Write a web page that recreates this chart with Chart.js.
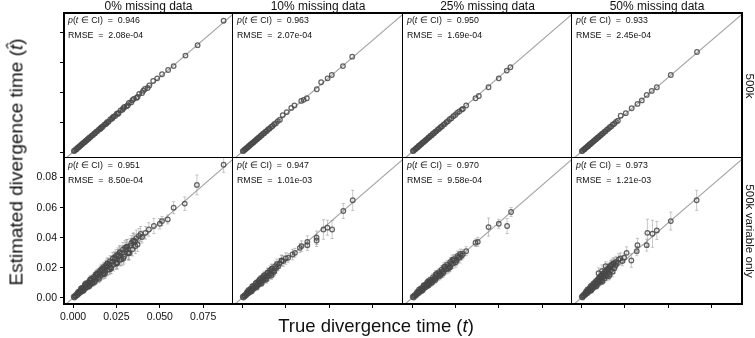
<!DOCTYPE html>
<html>
<head>
<meta charset="utf-8">
<script src="https://cdn.jsdelivr.net/npm/chart.js@4.4.1/dist/chart.umd.min.js"></script>
<style>
    body { margin: 0; background: #fff; width: 755px; height: 338px; position: relative; overflow: hidden;
           font-family: "Liberation Sans", Arial, sans-serif; color: #111; }
    canvas { position: absolute; }
    .lbl { position: absolute; white-space: nowrap; line-height: 1; transform: translate(-50%, -50%); }
</style>
</head>
<body>
<script>
// column / row headings and tick labels
var colTitles = ['0% missing data', '10% missing data', '25% missing data', '50% missing data'];
var rowTitles = ['500k', '500k variable only'];
var xTicks = [0, 0.025, 0.05, 0.075];
var yTicks = [0, 0.02, 0.04, 0.06, 0.08];

// p(t in CI) and RMSE printed in each panel
var coverTop = ['0.946', '0.963', '0.950', '0.933'];
var rmseTop = ['2.08e-04', '2.07e-04', '1.69e-04', '2.45e-04'];
var coverBottom = ['0.951', '0.947', '0.970', '0.973'];
var rmseBottom = ['8.50e-04', '1.01e-03', '9.58e-04', '1.21e-03'];

// 500k, 0% missing
var true500k_0 = [0.0005,0.0011,0.0017,0.0022,0.0028,0.0033,0.0039,0.0044,0.0050,0.0056,
    0.0061,0.0067,0.0072,0.0078,0.0084,0.0090,0.0095,0.0101,0.0108,0.0114,
    0.0121,0.0127,0.0134,0.0141,0.0148,0.0155,0.0163,0.0171,0.0179,0.0187,
    0.0196,0.0205,0.0214,0.0224,0.0233,0.0243,0.0252,0.0263,0.0274,0.0285,
    0.0296,0.0309,0.0322,0.0335,0.0350,0.0365,0.0381,0.0398,0.0414,0.0430,
    0.0462,0.0485,0.0513,0.0548,0.0580,0.0648,0.0718,0.0868,
    0.0160,0.0192,0.0228,0.0258,0.0290,0.0316,0.0342,0.0372,0.0405,0.0440];
var est500k_0 = [0.0007,0.0010,0.0019,0.0021,0.0030,0.0032,0.0041,0.0043,0.0052,0.0055,
    0.0063,0.0066,0.0074,0.0077,0.0086,0.0089,0.0097,0.0100,0.0110,0.0113,
    0.0123,0.0126,0.0136,0.0140,0.0150,0.0154,0.0166,0.0169,0.0182,0.0186,
    0.0199,0.0203,0.0218,0.0222,0.0237,0.0241,0.0256,0.0261,0.0279,0.0283,
    0.0301,0.0306,0.0328,0.0332,0.0356,0.0362,0.0389,0.0395,0.0422,0.0428,
    0.0475,0.0493,0.0520,0.0549,0.0575,0.0645,0.0715,0.0878,
    0.0158,0.0190,0.0230,0.0255,0.0293,0.0313,0.0346,0.0368,0.0410,0.0445];

// 500k, 10% missing
var true500k_10 = [0.0004,0.0010,0.0015,0.0021,0.0026,0.0032,0.0037,0.0043,0.0048,0.0054,
    0.0059,0.0065,0.0071,0.0076,0.0082,0.0088,0.0094,0.0100,0.0107,0.0113,
    0.0120,0.0127,0.0134,0.0142,0.0150,0.0158,0.0166,0.0175,0.0184,0.0194,
    0.0205,0.0217,
    0.0233,0.0256,0.0282,0.0300,0.0339,0.0353,0.0371,0.0428,0.0453,0.0490,0.0514,0.0578,0.0631];
var est500k_10 = [0.0006,0.0009,0.0017,0.0020,0.0028,0.0031,0.0039,0.0042,0.0050,0.0053,
    0.0061,0.0064,0.0073,0.0075,0.0084,0.0087,0.0096,0.0099,0.0109,0.0112,
    0.0122,0.0126,0.0136,0.0141,0.0152,0.0157,0.0168,0.0174,0.0186,0.0193,
    0.0207,0.0216,
    0.0247,0.0267,0.0295,0.0311,0.0342,0.0349,0.0360,0.0420,0.0467,0.0493,0.0515,0.0575,0.0638];

// 500k, 25% missing
var true500k_25 = [0.0005,0.0010,0.0016,0.0021,0.0027,0.0032,0.0038,0.0043,0.0049,0.0054,
    0.0060,0.0066,0.0071,0.0077,0.0083,0.0089,0.0095,0.0101,0.0107,0.0114,
    0.0120,0.0127,0.0134,0.0141,0.0149,0.0156,0.0164,0.0172,0.0180,0.0189,
    0.0198,0.0207,0.0217,0.0227,0.0238,0.0249,0.0260,0.0272,
    0.0287,0.0293,0.0312,0.0366,0.0385,0.0441,0.0500,0.0546,0.0567];
var est500k_25 = [0.0007,0.0009,0.0018,0.0020,0.0029,0.0031,0.0040,0.0042,0.0051,0.0053,
    0.0062,0.0065,0.0073,0.0076,0.0085,0.0088,0.0097,0.0100,0.0109,0.0113,
    0.0122,0.0126,0.0136,0.0140,0.0151,0.0155,0.0166,0.0171,0.0182,0.0188,
    0.0200,0.0206,0.0219,0.0226,0.0240,0.0248,0.0262,0.0271,
    0.0284,0.0289,0.0311,0.0360,0.0375,0.0433,0.0493,0.0545,0.0567];

// 500k, 50% missing
var true500k_50 = [0.0004,0.0009,0.0015,0.0020,0.0026,0.0031,0.0037,0.0042,0.0048,0.0053,
    0.0059,0.0064,0.0070,0.0076,0.0082,0.0088,0.0094,0.0100,0.0106,0.0113,
    0.0119,0.0126,0.0133,0.0140,0.0148,0.0156,0.0164,0.0172,0.0181,0.0190,
    0.0200,0.0211,
    0.0227,0.0256,0.0290,0.0323,0.0348,0.0376,0.0405,0.0434,0.0514,0.0664];
var est500k_50 = [0.0006,0.0008,0.0017,0.0019,0.0028,0.0030,0.0039,0.0041,0.0050,0.0052,
    0.0061,0.0063,0.0072,0.0075,0.0084,0.0087,0.0096,0.0099,0.0108,0.0112,
    0.0121,0.0125,0.0135,0.0139,0.0150,0.0155,0.0166,0.0171,0.0183,0.0189,
    0.0202,0.0210,
    0.0243,0.0260,0.0293,0.0322,0.0345,0.0382,0.0409,0.0433,0.0515,0.0669];

// 500k variable only, 0% missing (ci = half width of the interval)
var trueVar_0 = [0.0004,0.0008,0.0012,0.0016,0.0020,0.0025,0.0029,0.0033,0.0038,0.0042,
    0.0047,0.0051,0.0056,0.0061,0.0065,0.0070,0.0075,0.0080,0.0085,0.0090,
    0.0095,0.0100,0.0106,0.0111,0.0117,0.0122,0.0128,0.0134,0.0140,0.0146,
    0.0152,0.0159,0.0165,0.0172,0.0179,0.0186,0.0193,0.0201,0.0209,0.0217,
    0.0225,0.0234,0.0243,0.0252,0.0262,0.0272,0.0283,0.0294,0.0305,0.0317,
    0.0330,0.0343,0.0357,0.0372,
    0.0398,0.0418,0.0437,0.0466,0.0500,0.0513,0.0546,0.0580,0.0644,0.0714,0.0868,
    0.0030,0.0052,0.0068,0.0088,0.0104,0.0119,0.0131,0.0143,0.0156,0.0168,
    0.0176,0.0189,0.0197,0.0213,0.0229,0.0247,0.0258,0.0268,0.0288,0.0300,
    0.0312,0.0336,0.0350,0.0365,0.0380,
    0.0060,0.0094,0.0125,0.0150,0.0183,0.0220,0.0255,0.0290,0.0325,
    0.0045,0.0072,0.0098,0.0113,0.0137,0.0162,0.0175,0.0199,0.0210,0.0238,
    0.0248,0.0270,0.0280,0.0310,0.0320,0.0345,0.0360,0.0390];
var estVar_0 = [0.0009,0.0003,0.0016,0.0011,0.0026,0.0020,0.0035,0.0028,0.0045,0.0037,
    0.0054,0.0045,0.0064,0.0055,0.0073,0.0063,0.0083,0.0072,0.0094,0.0082,
    0.0104,0.0091,0.0116,0.0102,0.0128,0.0113,0.0139,0.0125,0.0152,0.0136,
    0.0165,0.0148,0.0178,0.0160,0.0193,0.0172,0.0208,0.0188,0.0224,0.0203,
    0.0240,0.0220,0.0258,0.0236,0.0278,0.0254,0.0300,0.0275,0.0323,0.0297,
    0.0348,0.0323,0.0375,0.0355,
    0.0405,0.0433,0.0455,0.0478,0.0493,0.0511,0.0522,0.0600,0.0627,0.0751,0.0885,
    0.0041,0.0066,0.0088,0.0105,0.0126,0.0140,0.0156,0.0165,0.0182,0.0193,
    0.0204,0.0216,0.0228,0.0243,0.0262,0.0280,0.0290,0.0300,0.0322,0.0334,
    0.0341,0.0365,0.0382,0.0398,0.0412,
    0.0048,0.0078,0.0106,0.0128,0.0160,0.0196,0.0230,0.0262,0.0298,
    0.0062,0.0095,0.0122,0.0100,0.0162,0.0188,0.0160,0.0230,0.0190,0.0268,
    0.0228,0.0305,0.0258,0.0340,0.0300,0.0378,0.0345,0.0425];
var ciVar_0 = [0.0008,0.0008,0.0009,0.0010,0.0010,0.0011,0.0012,0.0012,0.0013,0.0014,
    0.0015,0.0015,0.0016,0.0017,0.0018,0.0018,0.0020,0.0019,0.0021,0.0022,
    0.0022,0.0023,0.0024,0.0026,0.0025,0.0027,0.0028,0.0030,0.0029,0.0031,
    0.0032,0.0035,0.0033,0.0036,0.0034,0.0038,0.0036,0.0040,0.0037,0.0042,
    0.0039,0.0041,0.0043,0.0040,0.0045,0.0042,0.0046,0.0043,0.0047,0.0045,
    0.0048,0.0044,0.0050,0.0046,
    0.0040,0.0042,0.0045,0.0050,0.0035,0.0030,0.0030,0.0040,0.0045,0.0066,0.0050,
    0.0012,0.0015,0.0018,0.0020,0.0022,0.0025,0.0026,0.0028,0.0030,0.0032,
    0.0033,0.0035,0.0036,0.0038,0.0040,0.0042,0.0043,0.0044,0.0046,0.0047,
    0.0048,0.0050,0.0050,0.0052,0.0050,
    0.0015,0.0019,0.0022,0.0026,0.0030,0.0034,0.0038,0.0042,0.0045,
    0.0016,0.0020,0.0024,0.0022,0.0028,0.0032,0.0030,0.0036,0.0034,0.0040,
    0.0038,0.0044,0.0042,0.0048,0.0046,0.0052,0.0050,0.0050];

// 500k variable only, 10% missing
var trueVar_10 = [0.0004,0.0008,0.0013,0.0017,0.0022,0.0026,0.0031,0.0036,0.0040,0.0045,
    0.0050,0.0055,0.0060,0.0065,0.0070,0.0075,0.0080,0.0086,0.0091,0.0097,
    0.0103,0.0109,0.0115,0.0121,0.0128,0.0135,0.0142,0.0150,0.0158,0.0166,
    0.0175,0.0185,0.0196,
    0.0207,0.0236,0.0264,0.0289,0.0303,0.0331,0.0341,0.0374,0.0374,0.0427,0.0427,0.0466,0.0489,0.0516,0.0580,0.0634,
    0.0028,0.0047,0.0063,0.0078,0.0093,0.0106,0.0118,0.0131,0.0146,0.0161,0.0171,0.0190,0.0215,0.0225,
    0.0055,0.0084,0.0112,0.0139,0.0168,
    0.0036,0.0058,0.0081,0.0101,0.0124,0.0148,0.0170,0.0182,0.0200,0.0228,0.0250];
var estVar_10 = [0.0008,0.0003,0.0017,0.0012,0.0026,0.0021,0.0035,0.0031,0.0044,0.0040,
    0.0054,0.0050,0.0064,0.0059,0.0074,0.0069,0.0084,0.0081,0.0095,0.0092,
    0.0107,0.0104,0.0119,0.0116,0.0132,0.0130,0.0146,0.0145,0.0162,0.0161,
    0.0179,0.0181,0.0200,
    0.0211,0.0245,0.0267,0.0289,0.0300,0.0333,0.0345,0.0373,0.0351,0.0400,0.0382,0.0455,0.0467,0.0455,0.0578,0.0649,
    0.0038,0.0060,0.0079,0.0096,0.0112,0.0127,0.0139,0.0153,0.0168,0.0184,0.0195,0.0212,0.0230,0.0247,
    0.0044,0.0071,0.0097,0.0122,0.0150,
    0.0052,0.0076,0.0100,0.0124,0.0146,0.0170,0.0192,0.0172,0.0225,0.0250,0.0262];
var ciVar_10 = [0.0008,0.0009,0.0008,0.0010,0.0011,0.0010,0.0012,0.0013,0.0012,0.0015,
    0.0014,0.0016,0.0017,0.0015,0.0019,0.0018,0.0021,0.0019,0.0023,0.0021,
    0.0025,0.0022,0.0027,0.0024,0.0029,0.0026,0.0031,0.0028,0.0033,0.0029,
    0.0035,0.0031,0.0036,
    0.0030,0.0035,0.0030,0.0035,0.0030,0.0030,0.0035,0.0040,0.0035,0.0045,0.0040,0.0065,0.0050,0.0060,0.0050,0.0067,
    0.0012,0.0014,0.0016,0.0018,0.0020,0.0022,0.0024,0.0025,0.0027,0.0029,0.0030,0.0032,0.0034,0.0035,
    0.0015,0.0018,0.0021,0.0024,0.0027,
    0.0014,0.0017,0.0020,0.0023,0.0026,0.0029,0.0032,0.0030,0.0034,0.0036,0.0038];

// 500k variable only, 25% missing
var trueVar_25 = [0.0004,0.0009,0.0013,0.0018,0.0023,0.0027,0.0032,0.0037,0.0042,0.0047,
    0.0052,0.0057,0.0062,0.0067,0.0072,0.0078,0.0083,0.0089,0.0094,0.0100,
    0.0106,0.0112,0.0118,0.0124,0.0131,0.0137,0.0144,0.0151,0.0158,0.0166,
    0.0173,0.0181,0.0190,0.0198,0.0207,0.0216,0.0226,0.0236,0.0246,0.0257,
    0.0268,
    0.0287,0.0293,0.0312,0.0366,0.0379,0.0441,0.0500,0.0548,0.0571,
    0.0030,0.0050,0.0070,0.0086,0.0103,0.0121,0.0140,0.0155,0.0170,0.0185,0.0203,0.0221,0.0241,0.0262,0.0278,
    0.0060,0.0096,0.0134,0.0178,0.0220,
    0.0040,0.0066,0.0092,0.0115,0.0138,0.0162,0.0188,0.0210,0.0232,0.0252,0.0275];
var estVar_25 = [0.0008,0.0003,0.0017,0.0013,0.0027,0.0022,0.0036,0.0032,0.0046,0.0041,
    0.0056,0.0051,0.0066,0.0061,0.0076,0.0072,0.0087,0.0082,0.0098,0.0093,
    0.0110,0.0105,0.0122,0.0117,0.0135,0.0130,0.0148,0.0143,0.0162,0.0158,
    0.0177,0.0173,0.0194,0.0190,0.0211,0.0208,0.0230,0.0228,0.0250,0.0249,
    0.0272,
    0.0283,0.0293,0.0311,0.0367,0.0373,0.0471,0.0493,0.0478,0.0571,
    0.0040,0.0063,0.0085,0.0101,0.0120,0.0139,0.0158,0.0171,0.0188,0.0204,0.0221,0.0240,0.0258,0.0280,0.0292,
    0.0049,0.0084,0.0120,0.0163,0.0204,
    0.0055,0.0082,0.0110,0.0102,0.0158,0.0148,0.0208,0.0196,0.0252,0.0238,0.0268];
var ciVar_25 = [0.0008,0.0008,0.0009,0.0010,0.0009,0.0011,0.0012,0.0011,0.0013,0.0014,
    0.0013,0.0015,0.0016,0.0015,0.0017,0.0018,0.0017,0.0019,0.0020,0.0019,
    0.0021,0.0022,0.0021,0.0023,0.0024,0.0023,0.0025,0.0026,0.0025,0.0027,
    0.0028,0.0027,0.0029,0.0030,0.0028,0.0031,0.0030,0.0032,0.0031,0.0033,
    0.0032,
    0.0030,0.0030,0.0030,0.0025,0.0030,0.0060,0.0030,0.0050,0.0030,
    0.0012,0.0014,0.0016,0.0018,0.0020,0.0022,0.0024,0.0025,0.0027,0.0028,0.0029,0.0030,0.0031,0.0032,0.0033,
    0.0015,0.0019,0.0023,0.0027,0.0030,
    0.0014,0.0017,0.0020,0.0022,0.0025,0.0027,0.0030,0.0031,0.0033,0.0034,0.0036];

// 500k variable only, 50% missing
var trueVar_50 = [0.0004,0.0008,0.0012,0.0017,0.0021,0.0026,0.0030,0.0035,0.0039,0.0044,
    0.0049,0.0054,0.0059,0.0064,0.0069,0.0074,0.0079,0.0085,0.0090,0.0096,
    0.0102,0.0108,0.0114,0.0120,0.0127,0.0134,0.0141,0.0148,0.0156,0.0164,
    0.0172,0.0181,0.0190,
    0.0141,0.0198,0.0237,0.0246,0.0261,0.0288,0.0319,0.0323,0.0376,0.0380,0.0409,0.0434,0.0514,0.0662,
    0.0028,0.0046,0.0062,0.0077,0.0093,0.0105,0.0117,0.0129,0.0137,0.0152,0.0160,0.0168,0.0176,0.0185,0.0200,0.0215,0.0225,
    0.0058,0.0088,0.0122,0.0160,
    0.0036,0.0055,0.0070,0.0085,0.0100,0.0112,0.0125,0.0145,0.0158,0.0172,0.0188,0.0205,0.0120,0.0100];
var estVar_50 = [0.0009,0.0004,0.0018,0.0014,0.0028,0.0023,0.0038,0.0032,0.0047,0.0041,
    0.0057,0.0051,0.0068,0.0061,0.0079,0.0071,0.0090,0.0082,0.0101,0.0093,
    0.0113,0.0105,0.0126,0.0117,0.0139,0.0130,0.0153,0.0144,0.0168,0.0158,
    0.0184,0.0175,0.0198,
    0.0211,0.0218,0.0245,0.0267,0.0300,0.0249,0.0311,0.0351,0.0351,0.0433,0.0427,0.0449,0.0511,0.0649,
    0.0042,0.0063,0.0082,0.0100,0.0118,0.0133,0.0148,0.0161,0.0175,0.0190,0.0200,0.0212,0.0222,0.0228,0.0240,0.0255,0.0262,
    0.0049,0.0078,0.0110,0.0146,
    0.0055,0.0078,0.0095,0.0112,0.0130,0.0146,0.0162,0.0185,0.0198,0.0215,0.0232,0.0232,0.0180,0.0165];
var ciVar_50 = [0.0008,0.0009,0.0009,0.0010,0.0011,0.0011,0.0012,0.0013,0.0013,0.0014,
    0.0015,0.0016,0.0016,0.0017,0.0018,0.0019,0.0020,0.0020,0.0021,0.0022,
    0.0023,0.0024,0.0025,0.0026,0.0027,0.0027,0.0029,0.0030,0.0031,0.0032,
    0.0033,0.0034,0.0035,
    0.0030,0.0035,0.0030,0.0030,0.0040,0.0045,0.0030,0.0045,0.0040,0.0090,0.0090,0.0060,0.0060,0.0067,
    0.0013,0.0015,0.0017,0.0019,0.0021,0.0023,0.0025,0.0027,0.0030,0.0032,0.0033,0.0034,0.0035,0.0036,0.0037,0.0038,0.0038,
    0.0015,0.0018,0.0022,0.0026,
    0.0014,0.0016,0.0018,0.0020,0.0022,0.0024,0.0026,0.0030,0.0032,0.0034,0.0036,0.0038,0.0040,0.0035];

// layout of the grid of panels (pixels)
var colLeft = [64, 233, 403, 572];
var colRight = [233, 403, 572, 742];
var rowTop = [13, 158];
var rowBottom = [158, 304];
var ML = 50, MB = 26, MT = 4, MR = 4;
var xMin = -0.0052, xMax = 0.0922, yMin = -0.0040, yMax = 0.0930;
var FONT = '"Liberation Sans", Arial, sans-serif';

Chart.defaults.font.family = FONT;

var framePlugin = {
    id: 'frame',
    afterDatasetsDraw: function(chart, args, opts) {
        var a = chart.chartArea, ctx = chart.ctx;
        var L = Math.round(a.left), R = Math.round(a.right), T = Math.round(a.top), B = Math.round(a.bottom);
        ctx.save();
        ctx.strokeStyle = '#000';
        function edge(x1, y1, x2, y2, outer) {
            ctx.lineWidth = outer ? 2 : 1;
            var o = outer ? 0 : -0.5;
            ctx.beginPath();
            if (x1 === x2) { ctx.moveTo(x1 + o, y1 - 1); ctx.lineTo(x2 + o, y2 + 1); }
            else { ctx.moveTo(x1 - 1, y1 + o); ctx.lineTo(x2 + 1, y2 + o); }
            ctx.stroke();
        }
        edge(L, T, R, T, opts.row === 0);
        edge(L, B, R, B, opts.row === 1);
        edge(L, T, L, B, opts.col === 0);
        edge(R, T, R, B, opts.col === 3);

        // stats text in the top left corner
        var x0 = L + 4, size = 8.8;
        ctx.fillStyle = '#111';
        ctx.textBaseline = 'middle';
        var parts = [['p', true], ['(', false], ['t', true], [' \u2208 CI)  =  ' + opts.cover, false]];
        var x = x0;
        parts.forEach(function(p) {
            ctx.font = (p[1] ? 'italic ' : '') + size + 'px ' + FONT;
            ctx.fillText(p[0], x, T + 7.5);
            x += ctx.measureText(p[0]).width;
        });
        ctx.font = size + 'px ' + FONT;
        ctx.fillText('RMSE  =  ' + opts.rmse, x0, T + 22.5);
        ctx.restore();
    }
};

function panelConfig(row, col, trueT, estT, ci, cover, rmse) {
    var points = trueT.map(function(v, i) { return {x: v, y: estT[i]}; });
    var datasets = [
        {
            data: [{x: -0.01, y: -0.01}, {x: 0.1, y: 0.1}],
            showLine: true, borderColor: '#a6a6a6', borderWidth: 1.2, pointRadius: 0, clip: 0, order: 3
        },
        {
            data: points, pointRadius: 2.3, pointBorderWidth: 1.25,
            pointBorderColor: 'rgba(72,72,72,0.85)', pointBackgroundColor: 'rgba(0,0,0,0)', order: 0
        }
    ];
    if (ci) {
        var bars = [];
        trueT.forEach(function(v, i) {
            bars.push({x: v, y: estT[i] - ci[i]}, {x: v, y: estT[i] + ci[i]}, {x: v, y: null});
        });
        datasets.push({
            data: bars, showLine: true, spanGaps: false,
            borderColor: 'rgba(140,140,140,0.6)', borderWidth: 0.8,
            pointStyle: 'line', pointRadius: 1.6, pointBorderWidth: 0.8,
            pointBorderColor: 'rgba(140,140,140,0.6)', order: 1
        });
    }

    var tickFont = {family: FONT, size: 10.5};
    return {
        type: 'scatter',
        data: {datasets: datasets},
        options: {
            responsive: false,
            maintainAspectRatio: false,
            animation: false,
            events: [],
            layout: {autoPadding: false, padding: {left: 0, right: MR, top: MT, bottom: 0}},
            plugins: {
                legend: {display: false},
                tooltip: {enabled: false},
                frame: {row: row, col: col, cover: cover, rmse: rmse}
            },
            scales: {
                x: {
                    type: 'linear', min: xMin, max: xMax,
                    afterBuildTicks: function(s) { s.ticks = xTicks.map(function(v) { return {value: v}; }); },
                    afterFit: function(s) { s.height = MB; s.paddingLeft = 0; s.paddingRight = 0; },
                    border: {display: false},
                    grid: {drawOnChartArea: false, tickLength: 4, tickWidth: 1,
                           tickColor: row === 1 ? '#000' : 'rgba(0,0,0,0)'},
                    ticks: {
                        padding: 3, maxRotation: 0, autoSkip: false, font: tickFont,
                        color: (row === 1 && col === 0) ? '#111' : 'rgba(0,0,0,0)',
                        callback: function(v) { return v.toFixed(3); }
                    }
                },
                y: {
                    type: 'linear', min: yMin, max: yMax,
                    afterBuildTicks: function(s) { s.ticks = yTicks.map(function(v) { return {value: v}; }); },
                    afterFit: function(s) { s.width = ML; s.paddingTop = 0; s.paddingBottom = 0; },
                    border: {display: false},
                    grid: {drawOnChartArea: false, tickLength: 4, tickWidth: 1,
                           tickColor: col === 0 ? '#000' : 'rgba(0,0,0,0)'},
                    ticks: {
                        padding: 3, autoSkip: false, font: tickFont,
                        color: (row === 1 && col === 0) ? '#111' : 'rgba(0,0,0,0)',
                        callback: function(v) { return v.toFixed(2); }
                    }
                }
            }
        },
        plugins: [framePlugin]
    };
}

function makePanel(row, col, trueT, estT, ci, cover, rmse) {
    var w = colRight[col] - colLeft[col];
    var h = rowBottom[row] - rowTop[row];
    var canvas = document.createElement('canvas');
    canvas.width = w + ML + MR;
    canvas.height = h + MT + MB;
    document.body.appendChild(canvas);

    // first pass: find where the library puts the plot area inside the canvas
    var chart = new Chart(canvas.getContext('2d'), panelConfig(row, col, trueT, estT, ci, cover, rmse));
    var a = chart.chartArea;
    var l = Math.round(a.left), t = Math.round(a.top);
    var r = Math.round(canvas.width - a.right), b = Math.round(canvas.height - a.bottom);
    chart.destroy();

    // second pass: size the canvas so the plot area is exactly the panel
    canvas.width = w + l + r;
    canvas.height = h + t + b;
    canvas.style.width = canvas.width + 'px';
    canvas.style.height = canvas.height + 'px';
    canvas.style.left = (colLeft[col] - l) + 'px';
    canvas.style.top = (rowTop[row] - t) + 'px';
    new Chart(canvas.getContext('2d'), panelConfig(row, col, trueT, estT, ci, cover, rmse));
}

makePanel(0, 0, true500k_0, est500k_0, null, coverTop[0], rmseTop[0]);
makePanel(0, 1, true500k_10, est500k_10, null, coverTop[1], rmseTop[1]);
makePanel(0, 2, true500k_25, est500k_25, null, coverTop[2], rmseTop[2]);
makePanel(0, 3, true500k_50, est500k_50, null, coverTop[3], rmseTop[3]);
makePanel(1, 0, trueVar_0, estVar_0, ciVar_0, coverBottom[0], rmseBottom[0]);
makePanel(1, 1, trueVar_10, estVar_10, ciVar_10, coverBottom[1], rmseBottom[1]);
makePanel(1, 2, trueVar_25, estVar_25, ciVar_25, coverBottom[2], rmseBottom[2]);
makePanel(1, 3, trueVar_50, estVar_50, ciVar_50, coverBottom[3], rmseBottom[3]);

// headings around the grid
function addLabel(html, x, y, size, rotate) {
    var d = document.createElement('div');
    d.className = 'lbl';
    d.innerHTML = html;
    d.style.left = x + 'px';
    d.style.top = y + 'px';
    d.style.fontSize = size + 'px';
    if (rotate) d.style.transform = 'translate(-50%, -50%) rotate(' + rotate + 'deg)';
    document.body.appendChild(d);
}
colTitles.forEach(function(t, i) { addLabel(t, (colLeft[i] + colRight[i]) / 2, 5.5, 12); });
rowTitles.forEach(function(t, i) { addLabel(t, 750, (rowTop[i] + rowBottom[i]) / 2, 11.6, 90); });
addLabel('Estimated divergence time (<i>t&#770;</i>)', 16, 162, 19, -90);
addLabel('True divergence time (<i>t</i>)', 376, 326, 18.5);
</script>
</body>
</html>
